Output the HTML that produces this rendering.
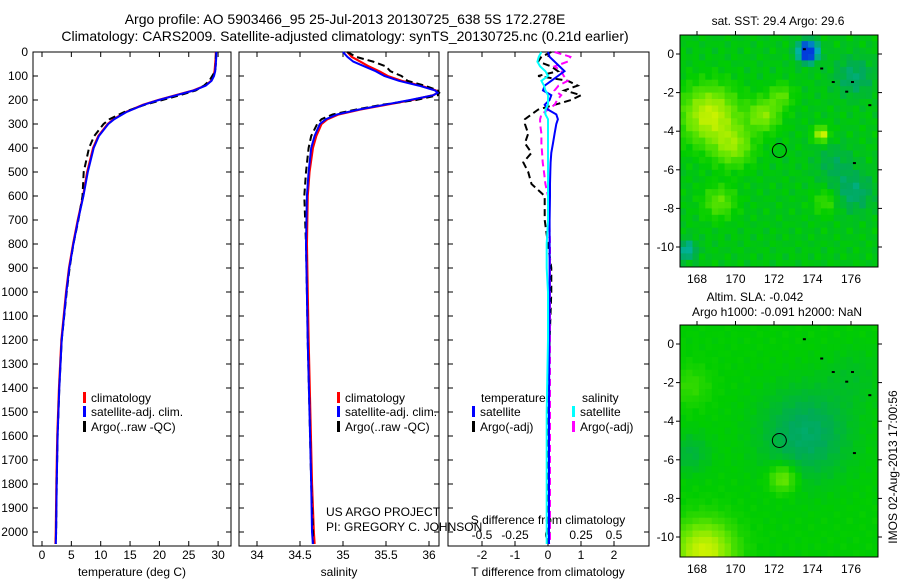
<!DOCTYPE html>
<html><head><meta charset="utf-8"><style>
body{margin:0;background:#fff}
svg{display:block;font-family:"Liberation Sans",sans-serif}
text{font-size:12px;fill:#000}
</style></head><body>
<svg id="c" width="900" height="580" viewBox="0 0 900 580" xmlns="http://www.w3.org/2000/svg">
<text x="345" y="24" text-anchor="middle" style="font-size:14px">Argo profile: AO 5903466_95 25-Jul-2013 20130725_638 5S 172.278E</text>
<text x="345" y="41" text-anchor="middle" style="font-size:14px">Climatology: CARS2009. Satellite-adjusted climatology: synTS_20130725.nc (0.21d earlier)</text>
<g id="g"></g>
</svg>
<script>
// ---- data ----
const depthT=[0,20,50,80,100,120,140,160,180,200,220,250,280,300,350,400,500,600,700,800,900,1000,1200,1400,1600,1800,2000,2050];
const climT=[29.6,29.6,29.5,29.4,29.2,28.8,27.8,25.8,22.8,19.8,17.2,14.3,12.2,11.2,9.6,8.7,7.7,7.0,6.1,5.3,4.6,4.1,3.3,2.9,2.6,2.45,2.35,2.3];
const satT=[29.7,29.7,29.6,29.5,29.3,28.9,27.9,25.9,22.9,19.9,17.3,14.4,12.3,11.3,9.7,8.8,7.8,7.05,6.15,5.35,4.65,4.15,3.35,2.95,2.65,2.5,2.4,2.35];
const argoT=[29.7,29.6,29.6,29.5,29.0,28.5,27.6,26.2,23.5,20.5,17.5,14.0,11.5,10.5,8.9,8.0,7.1,6.9,6.2,5.35,4.7,4.2,3.35,2.95,2.65,2.5,2.4,2.35];
const depthS=[0,20,40,60,80,100,120,140,160,170,180,200,220,240,260,280,300,350,400,500,600,800,1000,1200,1500,1800,2000,2050];
const climS=[35.05,35.1,35.2,35.3,35.42,35.52,35.68,35.9,36.08,36.1,36.05,35.8,35.5,35.2,34.95,34.82,34.75,34.69,34.65,34.61,34.59,34.58,34.59,34.6,34.62,34.64,34.66,34.67];
const satS=[35.0,35.05,35.12,35.25,35.38,35.48,35.65,35.88,36.07,36.1,36.05,35.78,35.48,35.18,34.93,34.8,34.73,34.67,34.63,34.6,34.58,34.57,34.58,34.59,34.61,34.63,34.64,34.65];
const argoS=[35.05,35.15,35.35,35.5,35.55,35.68,35.75,35.95,36.1,36.12,36.1,35.85,35.45,35.15,34.88,34.75,34.7,34.63,34.6,34.57,34.55,34.57,34.58,34.59,34.61,34.63,34.65,34.65];
const depthD=[0,20,40,60,80,100,120,140,160,180,200,220,240,260,280,300,340,380,420,460,500,550,600,700,800,900,1000,1200,1500,1800,2000,2050];
const satTd=[0.0,0.05,0.2,0.35,0.5,0.3,0.1,-0.1,-0.15,0.1,0.05,-0.1,0.0,0.25,0.3,0.25,0.2,0.15,0.1,0.08,0.07,0.06,0.06,0.05,0.05,0.05,0.05,0.04,0.03,0.03,0.03,0.03];
const argoTd=[0.1,-0.2,-0.3,0.1,0.3,-0.3,0.6,0.9,0.5,1.0,0.7,0.2,-0.3,-0.5,-0.7,-0.7,-0.6,-0.7,-0.5,-0.75,-0.6,-0.5,-0.1,-0.1,0.0,0.1,0.1,0.05,0.0,0.0,0.0,0.0];
const satSd=[-0.05,-0.07,-0.08,-0.06,-0.02,0.0,-0.05,-0.03,-0.02,0,0,0,-0.02,-0.02,0,0,0,0,0,0,0,0,0,0,-0.01,-0.01,0,0,-0.01,-0.01,-0.01,-0.01];
const argoSd=[0.05,0.17,0.15,0.05,0.1,0.12,0.15,0.08,0.05,0.1,0.07,0.05,0.0,-0.05,-0.06,-0.06,-0.05,-0.05,-0.045,-0.04,-0.03,-0.02,0,0.01,0.015,0.015,0.015,0.015,0.015,0.015,0.015,0.015];
const depthTicks=[0,100,200,300,400,500,600,700,800,900,1000,1100,1200,1300,1400,1500,1600,1700,1800,1900,2000];
const tTicks=[0,5,10,15,20,25,30];
const sTicks=[34,34.5,35,35.5,36];
const tdTicks=[-2,-1,0,1,2];
const sdTicks=[-0.5,-0.25,0,0.25,0.5];
const sdTickLabels=["-0.5","-0.25","0","0.25","0.5"];
const lonTicks=[168,170,172,174,176];
const latTicks=[0,-2,-4,-6,-8,-10];
const sstBlobs=[[168.5,-3,0.45,1.4],[169.7,-4.6,0.3,1.0],[171.3,-3,0.3,0.8],[172.2,-2,0.2,0.6],[174.3,-4,0.5,0.35],[169,-7.5,0.22,0.8],[174.5,-7.5,0.15,0.6],[173.6,0.3,-0.75,0.5],[176,-1,-0.15,1],[167.3,-10,-0.25,0.5],[176,-7,-0.15,1],[175,-5.5,-0.1,1]];
const slaBlobs=[[173.5,-4.5,-0.17,2.3],[172.3,-6.8,0.25,0.7],[168.2,-10.6,0.45,1.5],[167.5,-5.5,-0.1,1],[167.5,-2,0.1,1],[176,-1.5,-0.05,1.5]];
// ---- helpers ----
const NS='http://www.w3.org/2000/svg',G=document.getElementById('g');
function mk(t,a,p){const e=document.createElementNS(NS,t);for(const k in a)e.setAttribute(k,a[k]);(p||G).appendChild(e);return e;}
const yD=d=>52+d*0.24;
const PTOP=52,PBOT=546;
const xT=v=>42+v*5.87, xS=v=>257+(v-34)*86, xTd=v=>548+v*33, xSd=v=>548+v*132;
function panel(x0,x1,name){
  const r=mk('rect',{x:x0,y:PTOP,width:x1-x0,height:PBOT-PTOP,fill:'none',stroke:'#000','stroke-width':1});
  
  
  depthTicks.forEach(d=>{mk('line',{x1:x0,x2:x0+5,y1:yD(d),y2:yD(d),stroke:'#000'});mk('line',{x1:x1,x2:x1-5,y1:yD(d),y2:yD(d),stroke:'#000'});});
}
function xticks(ticks,labels,fx,x0,x1,ly,tickTop,tickBot){
  ticks.forEach((v,i)=>{const x=fx(v);
    if(tickBot)mk('line',{x1:x,x2:x,y1:PBOT,y2:PBOT-5,stroke:'#000'});
    if(tickTop)mk('line',{x1:x,x2:x,y1:PTOP,y2:PTOP+5,stroke:'#000'});
    const t=mk('text',{x:x,y:ly,'text-anchor':'middle'});t.textContent=labels[i];
    
    
  });
}
function line(ds,vs,fx,col,w,dash,name){
  let p=ds.map((d,i)=>(i?'L':'M')+fx(vs[i]).toFixed(1)+','+yD(d).toFixed(1)).join('');
  const a={d:p,fill:'none',stroke:col,'stroke-width':w};if(dash)a['stroke-dasharray']=dash;
  const e=mk('path',a);
  
  
}
function txt(x,y,s,name,anchor){const t=mk('text',{x:x,y:y,'text-anchor':anchor||'start'});t.textContent=s;
  
  return t;}
function legItem(x,y,col,s,name){mk('rect',{x:x,y:y-10,width:3,height:11,fill:col});txt(x+8,y,s,name);}
// ---- panel 1 ----
panel(33,231,'temperature-panel');
depthTicks.forEach(d=>{const t=mk('text',{x:28,y:yD(d)+4,'text-anchor':'end'});t.textContent=d;
  
  });
xticks(tTicks,tTicks.map(String),xT,33,231,559,true,true);
txt(132,576,'temperature (deg C)','temperature-axis-title','middle');
line(depthT,climT,xT,'#f00',2.2,null,'temp-climatology-line');
line(depthT,argoT,xT,'#000',2,'7,4','temp-argo-line');
line(depthT,satT,xT,'#00f',2,null,'temp-satellite-line');
legItem(83,402,'#f00','climatology','legend-climatology');
legItem(83,416,'#00f','satellite-adj. clim.','legend-satellite');
legItem(83,431,'#000','Argo(..raw -QC)','legend-argo');
// ---- panel 2 ----
panel(239,439,'salinity-panel');
xticks(sTicks,['34','34.5','35','35.5','36'],xS,239,439,559,true,true);
txt(339,576,'salinity','salinity-axis-title','middle');
line(depthS,climS,xS,'#f00',2.2,null,'sal-climatology-line');
line(depthS,argoS,xS,'#000',2,'7,4','sal-argo-line');
line(depthS,satS,xS,'#00f',2,null,'sal-satellite-line');
legItem(337,402,'#f00','climatology','legend-climatology-2');
legItem(337,416,'#00f','satellite-adj. clim.','legend-satellite-2');
legItem(337,431,'#000','Argo(..raw -QC)','legend-argo-2');
txt(326,516,'US ARGO PROJECT','project-label');
txt(326,531,'PI: GREGORY C. JOHNSON','pi-label');
// ---- panel 3 ----
panel(448,649,'difference-panel');
xticks(tdTicks,tdTicks.map(String),xTd,448,649,559,false,true);
xticks(sdTicks,sdTickLabels,xSd,448,649,539,true,false);
txt(548,524,'S difference from climatology','s-diff-axis-title','middle');
txt(548,576,'T difference from climatology','t-diff-axis-title','middle');
line(depthD,argoTd,xTd,'#000',2,'7,4','tdiff-argo-line');
line(depthD,argoSd,xSd,'#f0f',2,'7,4','sdiff-argo-line');
line(depthD,satTd,xTd,'#00f',2,null,'tdiff-satellite-line');
line(depthD,satSd,xSd,'#0ff',2,null,'sdiff-satellite-line');
txt(481,402,'temperature','legend-temperature-header');
txt(582,402,'salinity','legend-salinity-header');
legItem(472,416,'#00f','satellite','legend-t-satellite');
legItem(472,431,'#000','Argo(-adj)','legend-t-argo');
legItem(572,416,'#0ff','satellite','legend-s-satellite');
legItem(572,431,'#f0f','Argo(-adj)','legend-s-argo');
// ---- maps ----
const stops=[[0,[0,60,220]],[0.2,[0,180,180]],[0.35,[0,170,90]],[0.5,[0,205,0]],[0.7,[100,230,0]],[0.9,[190,240,0]],[1,[220,245,0]]];
function cmap(v){v=Math.max(0,Math.min(1,v));for(let i=1;i<stops.length;i++){if(v<=stops[i][0]){const a=stops[i-1],b=stops[i],f=(v-a[0])/(b[0]-a[0]);return 'rgb('+a[1].map((c,k)=>Math.round(c+(b[1][k]-c)*f)).join(',')+')';}}return 'rgb(220,245,0)';}
function map(y0,blobs,base,tex,name){
  const x0=680,x1=878,y1=y0+232;
  const fx=l=>697+(l-168)*19.25, fy=l=>y0+19+(-l)*19.3;
  const grp=mk('g',{});
  
  
  const step=1/3;
  for(let lon=167.1;lon<177.4;lon+=step){for(let lat=1;lat>-11.1;lat-=step){
    let v=base;blobs.forEach(b=>{const dx=lon-b[0],dy=lat-b[1];v+=b[2]*Math.exp(-(dx*dx+dy*dy)/(b[3]*b[3]));});
    v+=tex*(Math.sin(lon*7.3+lat*3.1)*Math.cos(lat*5.7-lon*2.3));
    mk('rect',{x:fx(lon).toFixed(1),y:fy(lat).toFixed(1),width:6.9,height:6.9,fill:cmap(v)},grp);
  }}
  mk('rect',{x:x1,y:y0-8,width:10,height:250,fill:'#fff'});
  mk('rect',{x:x0-10,y:y1,width:210,height:10,fill:'#fff'});
  mk('rect',{x:x0,y:y0,width:x1-x0,height:y1-y0,fill:'none',stroke:'#000'});
  lonTicks.forEach(l=>{const x=fx(l);mk('line',{x1:x,x2:x,y1:y0,y2:y0-4,stroke:'#000'});
    const t=mk('text',{x:x,y:y1+16,'text-anchor':'middle'});t.textContent=l;
    
    });
  latTicks.forEach(l=>{const y=fy(l);mk('line',{x1:x0,x2:x0-4,y1:y,y2:y,stroke:'#000'});mk('line',{x1:x1,x2:x1+4,y1:y,y2:y,stroke:'#000'});
    const t=mk('text',{x:x0-6,y:y+4,'text-anchor':'end'});t.textContent=l;
    
    });
  [[173.5,0.3],[174.4,-0.7],[175,-1.4],[176,-1.4],[175.7,-1.9],[176.9,-2.6],[176.1,-5.6]].forEach(p=>mk('rect',{x:fx(p[0]),y:fy(p[1]),width:3,height:2,fill:'#000'}));
  const c=mk('circle',{cx:fx(172.278),cy:fy(-5),r:7,fill:'none',stroke:'#000'});
  
  
}
map(35,sstBlobs,0.47,0.04,'sst-map');
txt(778,25,'sat. SST: 29.4  Argo: 29.6','sst-map-title','middle');
map(325,slaBlobs,0.5,0.015,'sla-map');
txt(755,301,'Altim. SLA: -0.042','sla-map-title','middle');
txt(777,316,'Argo h1000: -0.091 h2000: NaN','argo-height-title','middle');
const v=mk('text',{x:0,y:0,'text-anchor':'middle',transform:'translate(897,467) rotate(-90)'});v.textContent='IMOS 02-Aug-2013 17:00:56';


</script>
</body></html>
